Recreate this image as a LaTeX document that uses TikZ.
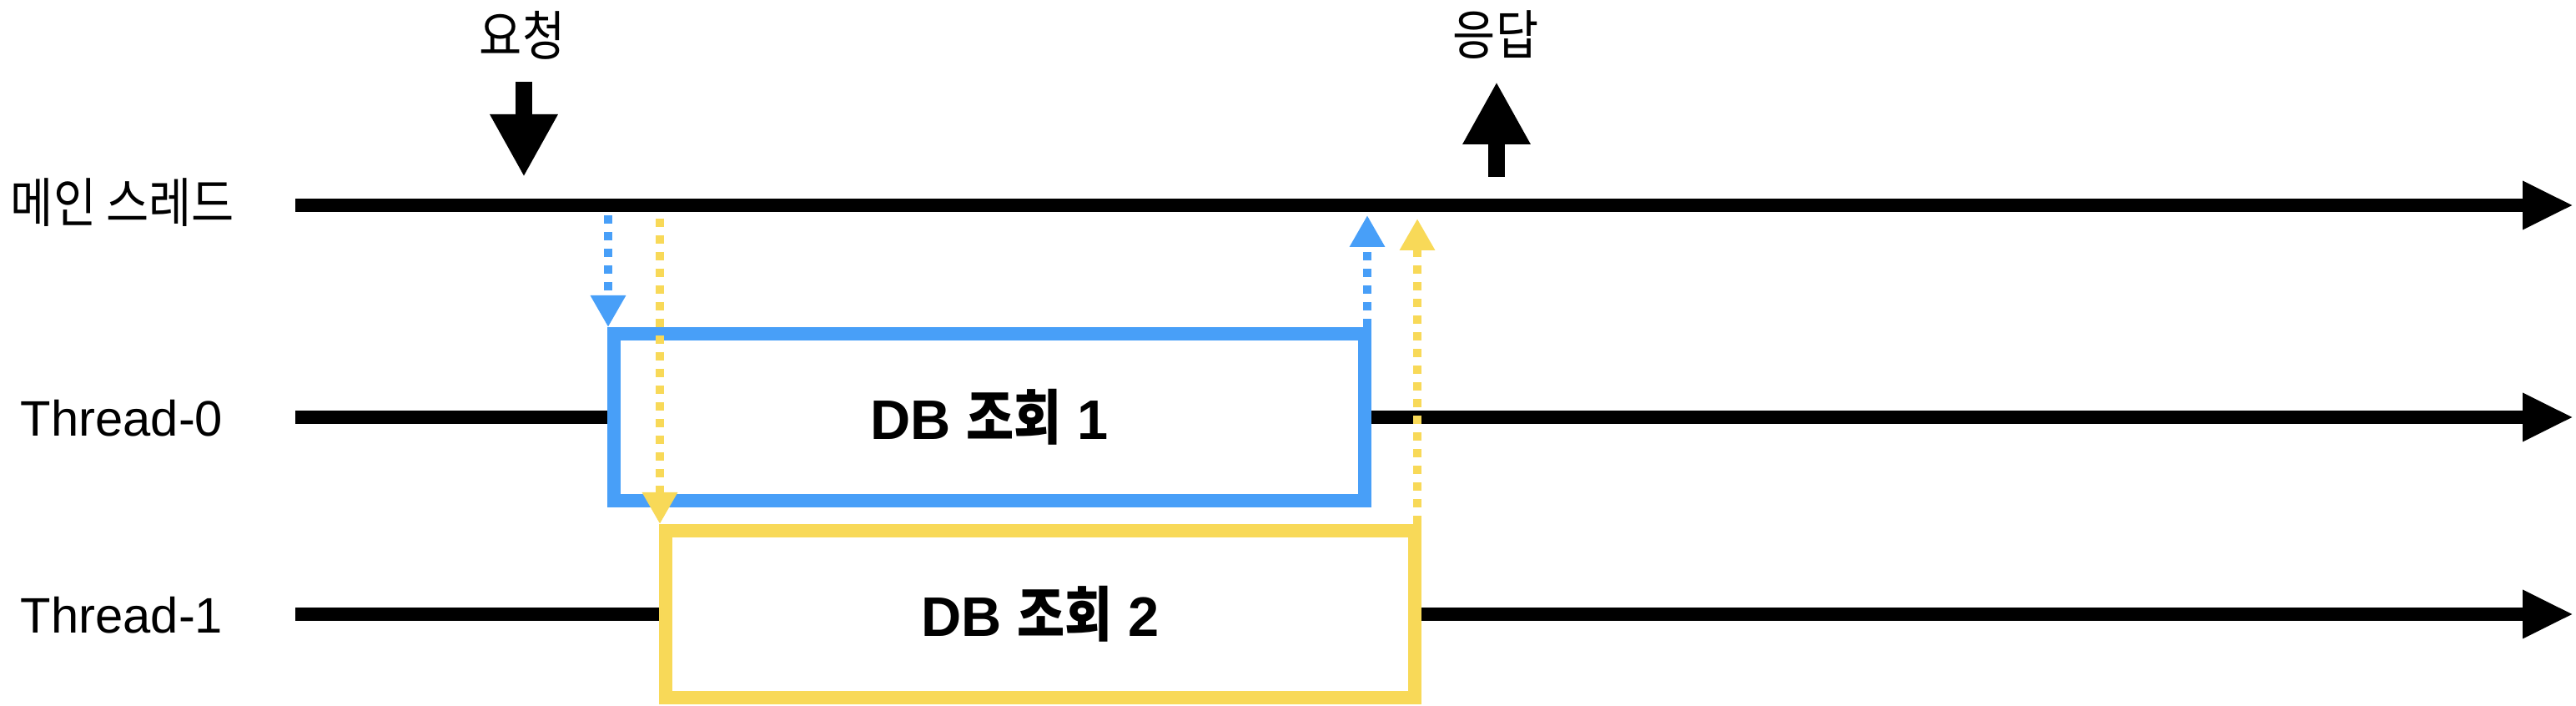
\documentclass[tikz,border=0pt]{standalone}
\usepackage{fontspec}
\setmainfont{Liberation Sans}
\newfontfamily\kr[FakeStretch=0.87,Scale=1.07]{Noto Sans CJK KR}
\usetikzlibrary{arrows.meta}
\definecolor{qblue}{RGB}{72,159,248}
\definecolor{qyellow}{RGB}{248,217,88}
\tikzset{
  lbl/.style={font=\fontsize{17pt}{20pt}\selectfont, inner sep=0pt},
  timeline/.style={line width=0.16cm, -{Triangle[length=0.61cm,width=0.54cm]}},
  qbox/.style={draw=#1, fill=white, line width=0.16cm, inner sep=0pt,
    minimum height=2cm, font=\fontsize{19pt}{22pt}\selectfont\bfseries},
  dotarrow/.style={draw=#1, line width=0.1cm, dash pattern=on 0.1cm off 0.1cm,
    -{Triangle[length=0.38cm,width=0.40cm]}},
  bigarrow/.style={line width=0.2cm, -{Triangle[length=0.75cm,width=0.76cm]}}
}
\begin{document}
\begin{tikzpicture}
\useasboundingbox (0,0) rectangle (30.88,8.46);
%noms
\node[lbl] (main) at (1.47,6.03) {\kr 메인 스레드};
\node[lbl] (th0) at (1.46,3.45) {Thread-0};
\node[lbl] (th1) at (1.46,1.09) {Thread-1};
\foreach \n/\y in {main/6.00, t0/3.46, t1/1.10}
{\coordinate (\n-s) at (3.54,\y); \coordinate (\n-e) at (30.85,\y);}
%taches
\node[qbox=qblue, minimum width=9cm] (q1) at (11.86,3.46) {DB {\kr 조회} 1};
\node[qbox=qyellow, minimum width=8.98cm] (q2) at (12.47,1.10) {DB {\kr 조회} 2};
%lignes
\draw[timeline] (main-s) -- (main-e);
\draw[line width=0.16cm] (t0-s) -- (q1.west);
\draw[timeline] (q1.east) -- (t0-e);
\draw[line width=0.16cm] (t1-s) -- (q2.west);
\draw[timeline] (q2.east) -- (t1-e);
%appels
\coordinate (b0) at (7.29,5.88);
\coordinate (y0) at (7.91,5.84);
\coordinate (b1) at (16.39,5.88);
\coordinate (y1) at (16.99,5.84);
\draw[dotarrow=qblue] (b0) -- (b0 |- q1.north);
\draw[dotarrow=qyellow] (y0) -- (y0 |- q2.north);
\draw[dotarrow=qblue] (b1 |- q1.north) -- (b1);
\draw[dotarrow=qyellow] (y1 |- q2.north) -- (y1);
%requete et reponse
\node[lbl] (req) at (6.26,8.04) {\kr 요청};
\node[lbl] (resp) at (17.93,8.04) {\kr 응답};
\coordinate (req-a) at (6.28,7.48);
\coordinate (req-b) at (6.28,6.34);
\coordinate (resp-a) at (17.94,6.34);
\coordinate (resp-b) at (17.94,7.48);
\draw[bigarrow] (req-a) -- (req-b);
\draw[bigarrow] (resp-a) -- (resp-b);
\end{tikzpicture}
\end{document}
